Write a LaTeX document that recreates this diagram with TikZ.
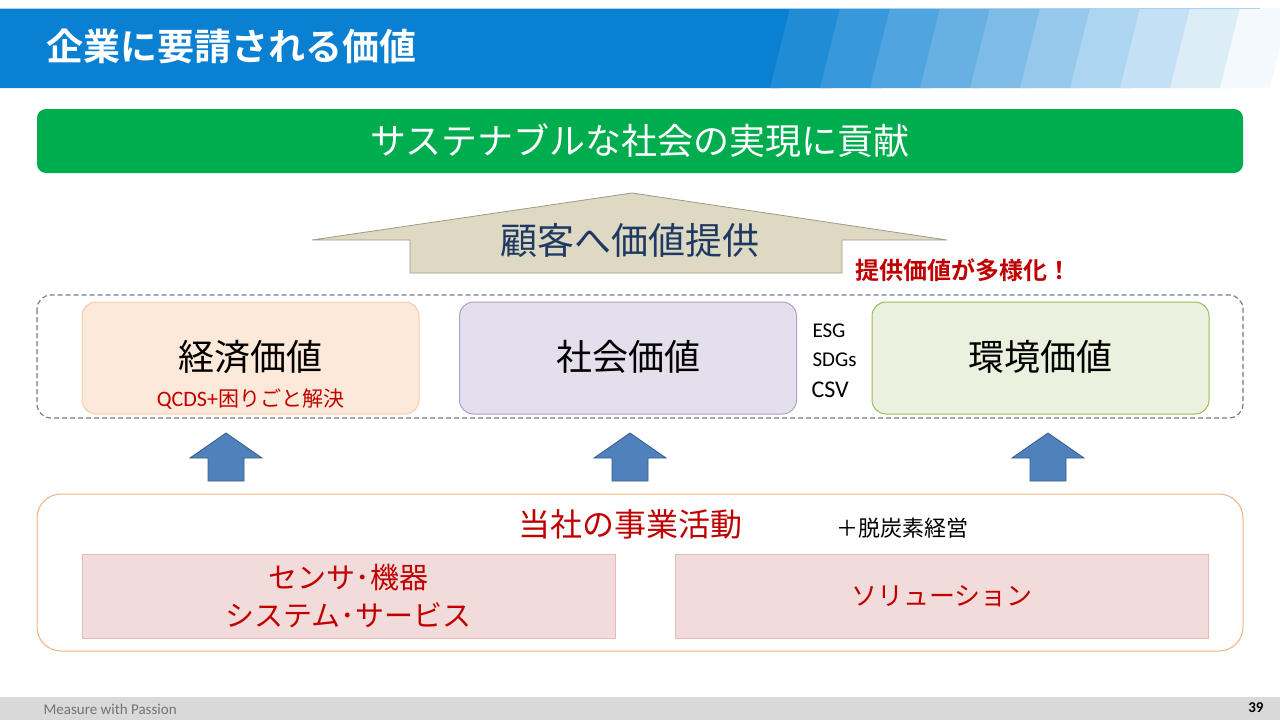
\documentclass[tikz,border=0pt]{standalone}
\usepackage{fontspec}
\setmainfont{Noto Sans CJK JP}
\newfontfamily\lat{Carlito}
\newfontfamily\jpb{Noto Sans CJK JP Bold}
\definecolor{hdrblue}{HTML}{0A80D2}
\definecolor{bannergreen}{HTML}{00AD4E}
\definecolor{tan}{HTML}{DDD9C3}
\definecolor{tanline}{HTML}{A09A80}
\definecolor{navy}{HTML}{1F3864}
\definecolor{darkred}{HTML}{C00000}
\definecolor{ecofill}{HTML}{FDE9D9}
\definecolor{ecoline}{HTML}{F8CBAD}
\definecolor{socfill}{HTML}{E4DFEC}
\definecolor{socline}{HTML}{B1A0C7}
\definecolor{envfill}{HTML}{EBF1DE}
\definecolor{envline}{HTML}{9BBB59}
\definecolor{dashcol}{HTML}{6F7F95}
\definecolor{orangeline}{HTML}{F4B183}
\definecolor{pinkfill}{HTML}{F2DCDB}
\definecolor{pinkline}{HTML}{E6B9B8}
\definecolor{arrowblue}{HTML}{4F81BD}
\definecolor{arrowline}{HTML}{385D8A}
\definecolor{footgray}{HTML}{D9D9D9}
\tikzset{
  valbox/.style={rounded corners=14pt, line width=1pt, minimum width=337pt, minimum height=112pt},
  bigtxt/.style={font=\fontsize{36}{40}\selectfont},
  redsub/.style={text=darkred, font=\fontsize{21}{24}\selectfont},
  pinkbox/.style={fill=pinkfill, draw=pinkline, line width=1pt, minimum width=533pt, minimum height=84pt, text=darkred, align=center, font=\fontsize{29}{38}\selectfont},
  upblock/.style={fill=arrowblue, draw=arrowline, line width=0.8pt},
  side/.style={font=\lat\fontsize{21}{24}\selectfont, anchor=west}
}
\begin{document}
\begin{tikzpicture}[x=1pt,y=-1pt]
\useasboundingbox (0,0) rectangle (1280,720);
\fill[white] (0,0) rectangle (1280,720);
% header band
\fill[hdrblue] (0,8) -- (800,8) -- (780,88) -- (0,88) -- cycle;
\foreach \i in {1,...,10}{
  \pgfmathsetmacro\mix{100-\i*9.5}
  \fill[hdrblue!\mix!white] ({720+\i*50},88) -- ({740+\i*50},8) -- ({802+\i*50},8) -- ({782+\i*50},88) -- cycle;
}
\fill[white] (1270,88) -- (1290,8) -- (1290,88) -- cycle;
\draw[hdrblue!35!white, line width=1pt] (0,8) -- (1260,8);
\node[anchor=west, text=white, font=\jpb\fontsize{37}{40}\selectfont] (title) at (43,46) {企業に要請される価値};
% green banner
\node[fill=bannergreen, rounded corners=9pt, minimum width=1206pt, minimum height=64pt, text=white, font=\fontsize{36}{40}\selectfont] (banner) at (640,141) {サステナブルな社会の実現に貢献};
% big tan arrow
\coordinate (apex) at (632,193);
\draw[fill=tan, draw=tanline, line width=0.8pt] (312,240) -- (apex) -- (947,240) -- (842,240) -- (842,273) -- (410,273) -- (410,240) -- cycle;
\node[text=navy, font=\fontsize{37}{40}\selectfont] (cust) at (630,240) {顧客へ価値提供};
\node[anchor=west, text=darkred, font=\jpb\fontsize{24}{28}\selectfont] (div) at (852,270) {提供価値が多様化！};
% dashed container
\draw[dashcol, dash pattern=on 5pt off 3pt, line width=1.2pt, rounded corners=14pt] (37,295) rectangle (1243,418);
% value boxes
\node[valbox, fill=ecofill, draw=ecoline] (eco) at (250.5,358) {};
\node[bigtxt] (ecot) at (250.5,357) {経済価値};
\node[redsub] (ecos) at (250.5,399) {{\lat\fontsize{22}{24}\selectfont QCDS+}困りごと解決};
\node[valbox, fill=socfill, draw=socline] (soc) at (628,358) {};
\node[bigtxt] (soct) at (628,357) {社会価値};
\node[valbox, fill=envfill, draw=envline] (env) at (1040.5,358) {};
\node[bigtxt] (envt) at (1040.5,357) {環境価値};
\node[side] (esg) at (809,331) {ESG};
\node[side] (sdg) at (809,360) {SDGs};
\node[side, font=\lat\fontsize{24}{26}\selectfont] (csv) at (808,390) {CSV};
% blue up arrows
\foreach \cx/\nm in {226/a1, 630/a2, 1048/a3}{
  \coordinate (\nm) at (\cx,433);
  \draw[upblock] (\nm) -- ++(36,25) -- ++(-18,0) -- ++(0,23) -- ++(-36,0) -- ++(0,-23) -- ++(-18,0) -- cycle;
}
% bottom container
\draw[orangeline, line width=1pt, rounded corners=24pt, fill=white] (37,494) rectangle (1243,651);
\node[text=darkred, font=\fontsize{32}{36}\selectfont] (biz) at (630,524) {当社の事業活動};
\node[font=\fontsize{22}{26}\selectfont] (decarb) at (902,528) {＋脱炭素経営};
\node[pinkbox] (dev) at (348.5,596) {センサ･機器\\システム･サービス};
\node[pinkbox, font=\fontsize{26}{30}\selectfont] (sol) at (942,596) {ソリューション};
% footer
\fill[footgray] (0,697) rectangle (1280,720);
\node[anchor=west, text=black!55, font=\lat\fontsize{15}{17}\selectfont] (foot) at (40,709) {Measure with Passion};
\node[anchor=east, font=\lat\bfseries\fontsize{15}{17}\selectfont] (page) at (1267,708) {39};
\end{tikzpicture}
\end{document}
